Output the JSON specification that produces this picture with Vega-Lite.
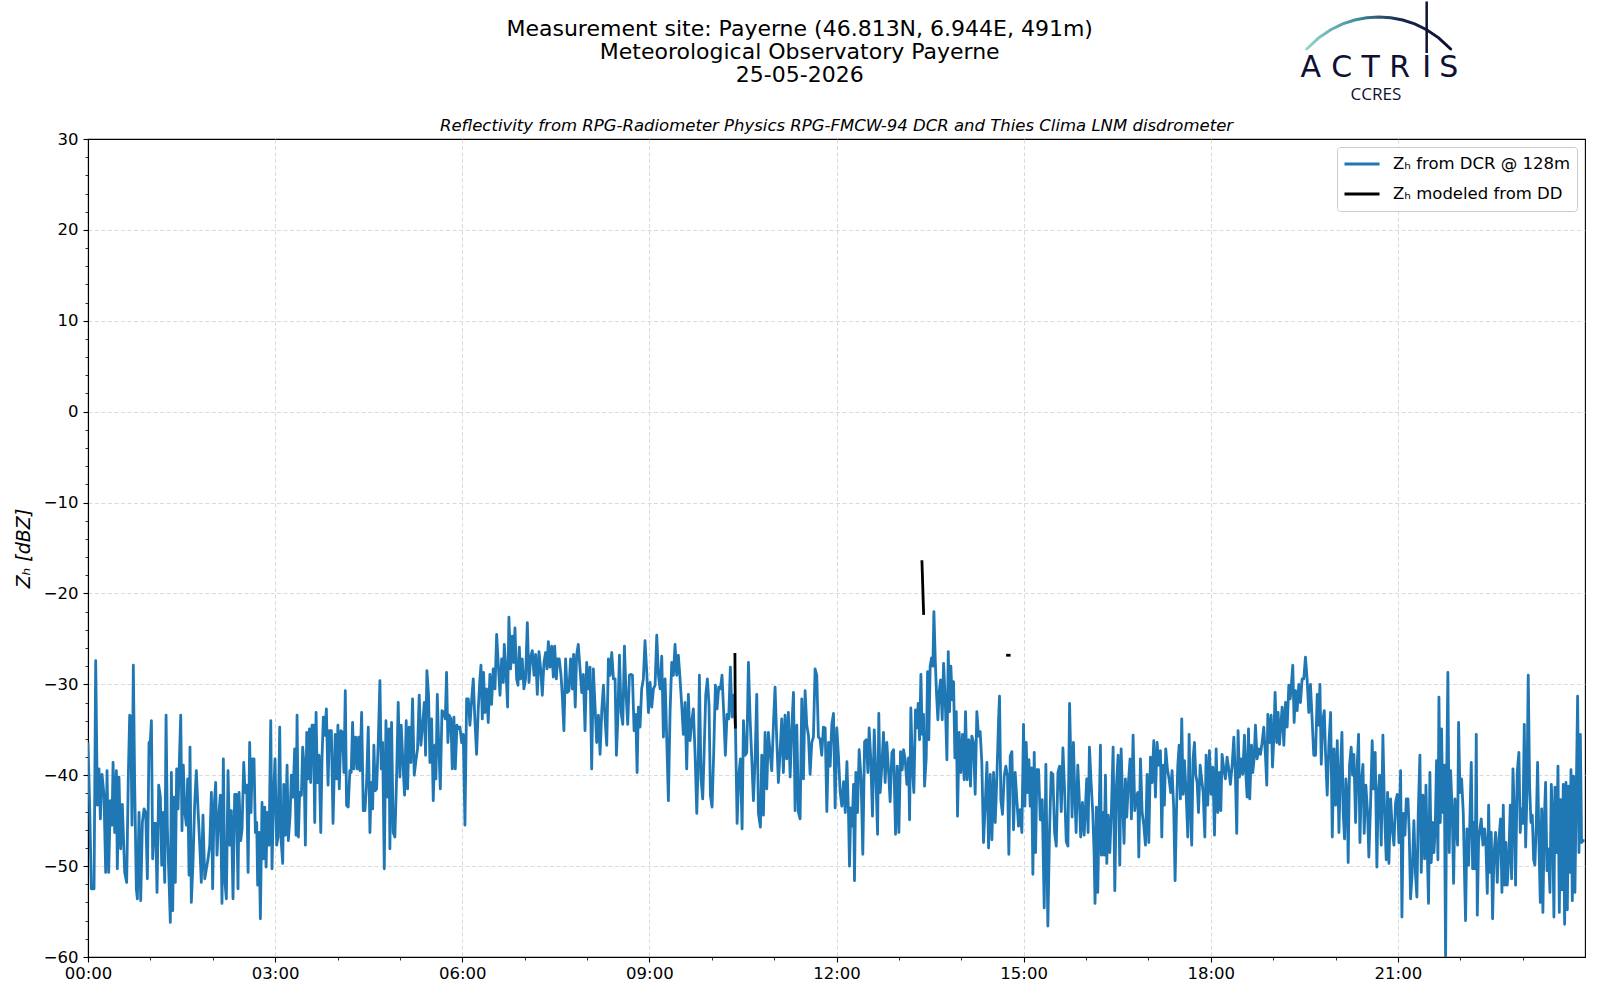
{
  "$schema": "https://vega.github.io/schema/vega-lite/v6.json",
  "width": 1497,
  "height": 818,
  "autosize": {"type": "none"},
  "padding": {"left": 88, "top": 139, "right": 15, "bottom": 43},
  "background": "white",
  "config": {
    "view": {"stroke": "black", "strokeWidth": 1.1},
    "font": "DejaVu Sans"
  },
  "datasets": {
    "dcr": [
      {"t":0.0,"z":-36.4},{"t":1.6,"z":-43.3},{"t":3.2,"z":-52.5},{"t":5.8,"z":-52.5},{"t":7.4,"z":-27.4},{"t":9.0,"z":-43.3},{"t":10.6,"z":-39.3},{"t":11.9,"z":-44.8},{"t":13.5,"z":-39.9},{"t":15.4,"z":-42.2},
      {"t":17.0,"z":-50.7},{"t":18.3,"z":-39.5},{"t":19.9,"z":-50.7},{"t":21.5,"z":-42.8},{"t":23.1,"z":-45.5},{"t":24.1,"z":-38.6},{"t":25.7,"z":-46.3},{"t":27.3,"z":-39.5},{"t":28.2,"z":-50.3},{"t":29.8,"z":-40.2},
      {"t":31.4,"z":-48.1},{"t":33.0,"z":-43.2},{"t":35.3,"z":-50.7},{"t":37.2,"z":-51.8},{"t":38.8,"z":-40.0},{"t":40.1,"z":-33.4},{"t":41.1,"z":-33.6},{"t":42.3,"z":-45.5},{"t":43.6,"z":-27.9},{"t":44.9,"z":-41.1},
      {"t":46.5,"z":-52.5},{"t":47.5,"z":-53.6},{"t":49.1,"z":-44.1},{"t":50.7,"z":-53.8},{"t":52.3,"z":-45.2},{"t":53.9,"z":-43.7},{"t":55.5,"z":-44.1},{"t":57.1,"z":-51.4},{"t":58.7,"z":-36.4},{"t":60.0,"z":-36.2},
      {"t":61.0,"z":-34.0},{"t":62.2,"z":-49.2},{"t":63.8,"z":-45.3},{"t":65.1,"z":-45.3},{"t":66.4,"z":-52.9},{"t":68.0,"z":-41.1},{"t":69.6,"z":-42.4},{"t":70.9,"z":-49.9},{"t":72.2,"z":-44.1},{"t":73.8,"z":-51.8},
      {"t":75.1,"z":-33.4},{"t":76.3,"z":-45.7},{"t":77.6,"z":-50.3},{"t":79.2,"z":-56.2},{"t":80.2,"z":-39.7},{"t":81.5,"z":-54.9},{"t":82.7,"z":-42.4},{"t":84.0,"z":-51.8},{"t":85.3,"z":-39.3},{"t":86.6,"z":-43.7},
      {"t":87.6,"z":-39.5},{"t":89.2,"z":-33.4},{"t":90.4,"z":-46.1},{"t":91.7,"z":-38.9},{"t":93.0,"z":-43.9},{"t":94.6,"z":-45.5},{"t":95.9,"z":-40.4},{"t":97.2,"z":-51.0},{"t":98.1,"z":-36.9},{"t":99.4,"z":-54.0},
      {"t":101.0,"z":-49.6},{"t":102.6,"z":-43.2},{"t":104.2,"z":-39.5},{"t":105.8,"z":-43.7},{"t":107.4,"z":-47.4},{"t":109.0,"z":-51.8},{"t":110.6,"z":-44.4},{"t":112.3,"z":-51.4},{"t":113.9,"z":-50.3},{"t":115.5,"z":-49.2},
      {"t":117.1,"z":-47.7},{"t":118.7,"z":-41.9},{"t":119.9,"z":-52.5},{"t":121.2,"z":-43.7},{"t":122.8,"z":-40.8},{"t":124.1,"z":-48.8},{"t":125.7,"z":-44.6},{"t":127.3,"z":-42.2},{"t":128.9,"z":-54.1},{"t":130.2,"z":-38.2},
      {"t":131.5,"z":-51.4},{"t":133.1,"z":-53.6},{"t":134.7,"z":-39.5},{"t":136.3,"z":-47.7},{"t":137.9,"z":-43.9},{"t":139.5,"z":-53.6},{"t":141.1,"z":-42.1},{"t":142.7,"z":-42.1},{"t":144.3,"z":-52.5},{"t":145.3,"z":-41.9},
      {"t":146.9,"z":-47.2},{"t":148.2,"z":-45.9},{"t":149.8,"z":-38.6},{"t":151.1,"z":-41.9},{"t":152.7,"z":-41.1},{"t":154.0,"z":-50.7},{"t":155.5,"z":-36.4},{"t":156.8,"z":-44.1},{"t":158.1,"z":-38.2},{"t":159.7,"z":-38.2},
      {"t":161.0,"z":-46.3},{"t":162.3,"z":-45.2},{"t":163.2,"z":-52.1},{"t":164.5,"z":-46.3},{"t":165.8,"z":-55.8},{"t":167.4,"z":-43.0},{"t":168.7,"z":-49.2},{"t":170.0,"z":-43.5},{"t":171.3,"z":-50.1},{"t":172.5,"z":-44.1},
      {"t":174.1,"z":-47.7},{"t":175.8,"z":-34.0},{"t":177.0,"z":-50.3},{"t":178.6,"z":-41.9},{"t":179.9,"z":-38.2},{"t":181.5,"z":-47.7},{"t":182.8,"z":-46.8},{"t":184.4,"z":-34.7},{"t":185.7,"z":-47.0},{"t":187.3,"z":-49.7},
      {"t":188.3,"z":-41.0},{"t":189.9,"z":-46.6},{"t":191.5,"z":-38.9},{"t":192.7,"z":-47.2},{"t":194.4,"z":-44.4},{"t":195.6,"z":-40.0},{"t":197.2,"z":-42.4},{"t":198.8,"z":-37.1},{"t":200.1,"z":-46.6},{"t":201.1,"z":-33.4},
      {"t":202.4,"z":-46.8},{"t":203.6,"z":-41.9},{"t":205.3,"z":-42.2},{"t":206.5,"z":-36.9},{"t":207.8,"z":-38.8},{"t":209.1,"z":-47.7},{"t":210.4,"z":-35.3},{"t":211.7,"z":-40.4},{"t":213.0,"z":-34.9},{"t":214.2,"z":-40.8},
      {"t":215.5,"z":-34.5},{"t":216.8,"z":-34.5},{"t":218.1,"z":-45.2},{"t":219.4,"z":-33.1},{"t":220.6,"z":-40.8},{"t":222.3,"z":-37.8},{"t":223.9,"z":-46.3},{"t":225.1,"z":-38.2},{"t":226.4,"z":-33.6},{"t":227.7,"z":-35.6},
      {"t":229.3,"z":-32.7},{"t":230.9,"z":-41.1},{"t":232.2,"z":-35.1},{"t":234.1,"z":-35.1},{"t":235.7,"z":-45.3},
      {"t":237.8,"z":-35.5},{"t":239.1,"z":-40.4},{"t":240.4,"z":-34.5},{"t":241.7,"z":-41.5},{"t":243.3,"z":-35.1},{"t":244.9,"z":-35.3},{"t":246.2,"z":-39.7},{"t":247.5,"z":-30.7},{"t":248.7,"z":-43.3},{"t":250.3,"z":-43.5},
      {"t":251.9,"z":-39.5},{"t":253.2,"z":-39.7},{"t":254.5,"z":-34.2},{"t":255.8,"z":-39.3},{"t":257.4,"z":-35.8},{"t":259.0,"z":-39.3},{"t":260.3,"z":-35.8},{"t":261.6,"z":-39.5},{"t":263.2,"z":-33.1},{"t":264.8,"z":-43.9},
      {"t":266.4,"z":-43.9},{"t":268.0,"z":-40.8},{"t":269.6,"z":-34.7},{"t":271.2,"z":-46.3},{"t":272.5,"z":-40.8},{"t":273.8,"z":-43.7},{"t":275.0,"z":-36.7},{"t":276.3,"z":-41.7},{"t":277.6,"z":-41.5},{"t":279.2,"z":-36.4},
      {"t":280.8,"z":-29.6},{"t":282.1,"z":-39.3},{"t":283.4,"z":-36.4},{"t":285.0,"z":-50.3},{"t":286.6,"z":-34.0},{"t":288.2,"z":-42.4},{"t":289.5,"z":-34.9},{"t":290.4,"z":-48.1},{"t":292.0,"z":-34.2},{"t":293.6,"z":-46.3},
      {"t":295.2,"z":-46.8},{"t":296.8,"z":-40.4},{"t":298.4,"z":-32.0},{"t":300.0,"z":-40.2},{"t":301.3,"z":-34.5},{"t":302.9,"z":-38.6},{"t":304.5,"z":-42.2},{"t":306.1,"z":-34.0},{"t":307.4,"z":-41.5},{"t":309.0,"z":-34.7},
      {"t":310.6,"z":-38.6},{"t":312.2,"z":-31.6},{"t":313.8,"z":-40.0},{"t":315.4,"z":-38.4},{"t":317.0,"z":-37.1},{"t":318.6,"z":-31.2},{"t":320.2,"z":-36.7},{"t":321.9,"z":-34.5},{"t":323.5,"z":-32.0},{"t":324.7,"z":-37.8},
      {"t":326.0,"z":-28.5},{"t":327.6,"z":-31.2},{"t":328.9,"z":-38.6},{"t":330.5,"z":-33.8},{"t":332.1,"z":-42.8},{"t":333.7,"z":-36.7},{"t":334.7,"z":-40.4},{"t":336.0,"z":-31.1},{"t":337.2,"z":-36.0},{"t":338.9,"z":-41.5},
      {"t":340.5,"z":-32.9},{"t":342.1,"z":-33.1},{"t":343.7,"z":-33.8},{"t":344.9,"z":-28.7},{"t":346.2,"z":-36.4},{"t":347.5,"z":-33.4},{"t":349.1,"z":-33.8},{"t":350.4,"z":-39.3},{"t":352.0,"z":-33.6},{"t":353.3,"z":-39.3},
      {"t":354.9,"z":-34.5},{"t":356.5,"z":-34.9},{"t":357.8,"z":-34.7},{"t":359.4,"z":-36.4},{"t":361.0,"z":-35.5},{"t":362.6,"z":-45.5},{"t":364.2,"z":-31.6},{"t":365.8,"z":-31.6},{"t":367.4,"z":-34.5},{"t":369.0,"z":-31.8},
      {"t":370.6,"z":-29.4},{"t":372.2,"z":-34.0},{"t":373.8,"z":-37.7},{"t":375.4,"z":-32.7},{"t":377.0,"z":-29.4},{"t":378.0,"z":-27.9},{"t":379.3,"z":-33.8},{"t":380.5,"z":-28.7},{"t":381.8,"z":-33.1},{"t":383.4,"z":-30.5},
      {"t":385.0,"z":-34.2},{"t":386.6,"z":-28.9},{"t":388.2,"z":-32.2},{"t":389.8,"z":-28.3},{"t":391.5,"z":-30.5},{"t":393.1,"z":-24.5},{"t":394.7,"z":-27.9},{"t":396.3,"z":-31.2},{"t":397.9,"z":-27.2},{"t":399.5,"z":-29.8},
      {"t":400.4,"z":-25.6},{"t":402.0,"z":-28.3},{"t":403.6,"z":-32.5},{"t":404.9,"z":-22.6},{"t":406.5,"z":-28.3},{"t":408.1,"z":-24.7},{"t":409.4,"z":-27.6},{"t":410.7,"z":-23.8},{"t":412.3,"z":-29.4},{"t":413.6,"z":-30.1},
      {"t":414.9,"z":-25.9},{"t":416.1,"z":-29.4},{"t":417.7,"z":-27.2},{"t":419.3,"z":-30.5},{"t":420.9,"z":-29.4},{"t":422.6,"z":-23.2},{"t":424.2,"z":-29.8},{"t":425.8,"z":-27.0},{"t":427.4,"z":-26.3},{"t":429.0,"z":-29.0},
      {"t":430.6,"z":-26.7},{"t":432.2,"z":-31.1},{"t":433.8,"z":-26.4},{"t":435.4,"z":-28.3},{"t":437.0,"z":-31.2},{"t":438.6,"z":-27.6},{"t":440.2,"z":-26.5},{"t":441.5,"z":-28.3},{"t":442.8,"z":-25.3},{"t":444.4,"z":-28.1},
      {"t":446.0,"z":-25.8},{"t":447.6,"z":-29.2},{"t":448.9,"z":-25.8},{"t":450.5,"z":-29.4},{"t":451.7,"z":-27.2},{"t":453.3,"z":-27.2},{"t":455.0,"z":-29.0},{"t":456.2,"z":-31.2},{"t":457.8,"z":-35.1},{"t":459.4,"z":-27.2},
      {"t":461.0,"z":-30.9},{"t":462.6,"z":-30.7},{"t":464.2,"z":-27.2},{"t":465.9,"z":-30.5},{"t":467.1,"z":-26.7},{"t":468.7,"z":-32.5},{"t":470.0,"z":-26.8},{"t":471.6,"z":-25.6},
      {"t":474.9,"z":-30.9},{"t":476.5,"z":-28.9},{"t":478.1,"z":-35.1},{"t":479.7,"z":-27.6},{"t":481.3,"z":-30.5},{"t":482.9,"z":-28.1},{"t":484.5,"z":-39.3},{"t":486.1,"z":-28.3},{"t":487.7,"z":-32.3},{"t":489.3,"z":-36.4},
      {"t":491.0,"z":-33.4},{"t":492.6,"z":-37.7},{"t":494.2,"z":-32.9},{"t":495.8,"z":-30.1},{"t":497.4,"z":-33.8},{"t":499.0,"z":-36.7},{"t":500.6,"z":-27.2},{"t":502.2,"z":-29.0},{"t":503.8,"z":-26.5},{"t":505.4,"z":-29.4},
      {"t":507.0,"z":-29.4},{"t":508.3,"z":-37.8},{"t":509.5,"z":-34.2},{"t":511.2,"z":-26.8},{"t":512.8,"z":-33.1},{"t":514.4,"z":-34.4},{"t":516.0,"z":-25.8},{"t":517.6,"z":-31.2},{"t":519.2,"z":-34.4},{"t":520.8,"z":-29.0},
      {"t":522.4,"z":-28.9},{"t":523.7,"z":-29.0},{"t":525.3,"z":-35.1},{"t":526.9,"z":-33.3},{"t":528.2,"z":-39.7},{"t":529.4,"z":-32.5},{"t":531.0,"z":-34.7},{"t":532.6,"z":-30.5},{"t":534.2,"z":-29.4},{"t":535.8,"z":-25.2},
      {"t":537.5,"z":-28.7},{"t":539.1,"z":-33.1},{"t":540.7,"z":-29.8},{"t":542.3,"z":-32.5},{"t":543.9,"z":-30.5},{"t":545.5,"z":-30.1},{"t":547.1,"z":-24.6},{"t":548.7,"z":-29.0},{"t":550.3,"z":-30.5},{"t":551.9,"z":-26.9},
      {"t":553.5,"z":-35.8},{"t":555.1,"z":-29.4},{"t":556.7,"z":-36.0},{"t":558.3,"z":-42.8},{"t":559.9,"z":-33.1},{"t":561.5,"z":-27.6},{"t":563.1,"z":-29.0},{"t":564.7,"z":-25.6},{"t":566.3,"z":-29.0},{"t":567.9,"z":-26.8},
      {"t":569.5,"z":-29.4},{"t":571.1,"z":-32.3},{"t":572.7,"z":-35.5},{"t":574.3,"z":-32.0},{"t":575.9,"z":-39.3},{"t":577.5,"z":-31.1},{"t":579.1,"z":-36.2},{"t":580.7,"z":-34.2},{"t":582.3,"z":-32.7},{"t":584.0,"z":-37.8},
      {"t":585.6,"z":-44.2},{"t":587.2,"z":-37.5},{"t":588.1,"z":-29.0},{"t":589.7,"z":-40.4},{"t":591.3,"z":-42.6},{"t":592.6,"z":-37.8},{"t":594.2,"z":-31.2},{"t":595.8,"z":-29.4},{"t":597.4,"z":-32.3},{"t":598.7,"z":-42.2},
      {"t":600.3,"z":-43.5},{"t":601.9,"z":-37.5},{"t":603.5,"z":-30.1},{"t":605.1,"z":-32.7},{"t":606.7,"z":-30.3},{"t":608.3,"z":-30.5},{"t":609.9,"z":-29.0},{"t":611.5,"z":-33.1},{"t":613.1,"z":-37.8},{"t":614.7,"z":-33.3},
      {"t":616.3,"z":-33.8},{"t":617.9,"z":-28.1},{"t":619.5,"z":-33.6},{"t":621.2,"z":-31.2},{"t":622.8,"z":-34.7},{"t":624.4,"z":-45.3},{"t":626.0,"z":-40.0},{"t":627.6,"z":-38.2},{"t":629.2,"z":-45.9},{"t":630.5,"z":-34.0},
      {"t":632.1,"z":-37.8},{"t":633.7,"z":-37.5},{"t":635.3,"z":-27.6},{"t":636.9,"z":-33.8},{"t":638.5,"z":-38.2},{"t":640.1,"z":-42.8},{"t":641.7,"z":-38.2},{"t":643.3,"z":-31.1},{"t":644.9,"z":-44.2},{"t":646.8,"z":-45.7},
      {"t":648.1,"z":-37.8},{"t":649.7,"z":-44.4},{"t":651.3,"z":-35.3},{"t":652.9,"z":-41.5},{"t":654.5,"z":-35.3},{"t":656.1,"z":-37.5},{"t":657.7,"z":-39.5},{"t":659.3,"z":-34.5},{"t":660.9,"z":-30.3},{"t":662.5,"z":-36.0},
      {"t":664.1,"z":-40.8},{"t":665.7,"z":-37.5},{"t":667.3,"z":-33.8},{"t":668.9,"z":-39.7},{"t":670.5,"z":-33.4},{"t":672.1,"z":-38.2},{"t":673.7,"z":-33.1},{"t":675.4,"z":-40.2},{"t":677.0,"z":-34.7},{"t":678.6,"z":-30.9},
      {"t":680.2,"z":-43.9},{"t":681.8,"z":-34.5},{"t":683.4,"z":-44.1},{"t":685.0,"z":-44.8},{"t":686.6,"z":-31.6},{"t":688.2,"z":-40.4},{"t":689.8,"z":-30.7},{"t":691.4,"z":-34.5},{"t":693.0,"z":-35.6},{"t":694.6,"z":-39.9},
      {"t":696.2,"z":-36.4},{"t":697.8,"z":-35.8},{"t":699.4,"z":-28.3},{"t":701.0,"z":-29.0},{"t":702.6,"z":-35.8},{"t":704.2,"z":-36.0},{"t":705.8,"z":-37.8},{"t":707.4,"z":-34.7},
      {"t":709.1,"z":-34.8},{"t":710.7,"z":-44.0},{"t":712.3,"z":-36.4},{"t":713.9,"z":-39.0},{"t":715.5,"z":-34.4},{"t":717.1,"z":-33.2},{"t":718.7,"z":-43.6},{"t":720.3,"z":-34.8},{"t":721.9,"z":-37.9},{"t":723.5,"z":-41.8},
      {"t":725.1,"z":-43.4},{"t":726.8,"z":-40.7},{"t":728.4,"z":-44.1},{"t":730.0,"z":-38.5},{"t":731.6,"z":-44.5},{"t":732.5,"z":-50.0},{"t":733.8,"z":-43.6},{"t":735.1,"z":-45.6},{"t":736.4,"z":-41.0},{"t":737.3,"z":-51.6},
      {"t":738.6,"z":-39.7},{"t":740.2,"z":-44.1},{"t":741.8,"z":-37.2},{"t":743.7,"z":-40.5},{"t":745.3,"z":-48.7},{"t":747.0,"z":-36.3},{"t":748.6,"z":-36.1},{"t":750.2,"z":-39.7},{"t":751.4,"z":-34.8},{"t":753.0,"z":-38.3},
      {"t":754.6,"z":-44.5},{"t":756.3,"z":-35.0},{"t":757.9,"z":-40.1},{"t":759.5,"z":-46.5},{"t":760.7,"z":-33.2},{"t":762.0,"z":-41.9},{"t":763.6,"z":-39.0},{"t":765.2,"z":-35.3},{"t":766.8,"z":-40.8},{"t":768.4,"z":-36.4},
      {"t":770.0,"z":-39.4},{"t":771.6,"z":-42.9},{"t":773.3,"z":-37.5},{"t":774.9,"z":-37.2},{"t":776.8,"z":-46.5},{"t":778.4,"z":-39.0},{"t":780.0,"z":-46.3},{"t":781.6,"z":-37.4},{"t":783.2,"z":-39.4},{"t":784.5,"z":-37.2},
      {"t":786.1,"z":-38.3},{"t":787.7,"z":-41.0},{"t":789.3,"z":-38.1},{"t":790.3,"z":-44.9},{"t":791.5,"z":-32.6},{"t":793.1,"z":-39.4},{"t":794.4,"z":-41.9},{"t":796.0,"z":-32.8},{"t":797.3,"z":-34.8},{"t":798.6,"z":-32.1},
      {"t":799.9,"z":-36.1},{"t":801.2,"z":-28.9},{"t":802.4,"z":-35.5},{"t":803.7,"z":-33.3},{"t":804.7,"z":-41.2},{"t":806.3,"z":-38.1},{"t":807.6,"z":-28.6},{"t":808.8,"z":-36.1},{"t":810.1,"z":-28.0},{"t":811.4,"z":-27.1},
      {"t":812.7,"z":-28.0},{"t":813.7,"z":-22.0},{"t":815.0,"z":-27.3},{"t":816.2,"z":-31.0},{"t":817.5,"z":-33.9},{"t":818.8,"z":-30.8},{"t":820.1,"z":-29.5},{"t":821.7,"z":-33.9},{"t":823.0,"z":-27.7},{"t":824.6,"z":-31.7},
      {"t":826.2,"z":-38.3},{"t":827.5,"z":-26.4},{"t":828.7,"z":-33.0},{"t":830.0,"z":-28.0},{"t":831.3,"z":-31.7},{"t":832.6,"z":-29.7},{"t":833.9,"z":-38.1},{"t":835.2,"z":-33.0},{"t":836.4,"z":-44.5},{"t":838.0,"z":-35.3},
      {"t":839.6,"z":-39.7},{"t":841.2,"z":-35.5},{"t":842.8,"z":-40.5},{"t":844.1,"z":-33.0},{"t":845.7,"z":-40.5},{"t":847.3,"z":-36.1},{"t":848.9,"z":-41.2},{"t":850.2,"z":-35.7},{"t":851.8,"z":-36.4},{"t":853.4,"z":-42.1},
      {"t":855.0,"z":-33.0},{"t":856.6,"z":-35.7},{"t":858.2,"z":-35.2},{"t":859.8,"z":-38.6},{"t":861.4,"z":-47.4},{"t":863.0,"z":-43.4},{"t":864.7,"z":-38.6},{"t":866.3,"z":-48.0},{"t":867.9,"z":-39.9},{"t":869.5,"z":-47.1},
      {"t":871.1,"z":-39.7},{"t":872.7,"z":-45.2},{"t":874.3,"z":-40.1},{"t":875.9,"z":-33.9},{"t":876.8,"z":-31.3},{"t":878.1,"z":-42.7},{"t":879.7,"z":-44.3},{"t":881.3,"z":-40.1},{"t":882.9,"z":-39.0},{"t":884.5,"z":-40.1},
      {"t":885.8,"z":-48.7},{"t":887.1,"z":-37.9},{"t":888.7,"z":-37.4},{"t":890.3,"z":-46.0},{"t":891.9,"z":-39.7},{"t":893.5,"z":-42.7},{"t":895.1,"z":-45.6},{"t":896.7,"z":-43.8},{"t":898.3,"z":-46.3},{"t":899.9,"z":-34.4},
      {"t":901.2,"z":-43.4},{"t":902.5,"z":-36.4},{"t":903.8,"z":-41.9},{"t":905.1,"z":-38.3},{"t":906.3,"z":-43.4},{"t":907.6,"z":-39.2},{"t":908.9,"z":-50.9},{"t":910.2,"z":-37.5},{"t":911.5,"z":-48.5},{"t":912.8,"z":-39.4},
      {"t":914.4,"z":-39.4},{"t":916.0,"z":-44.9},{"t":917.9,"z":-42.7},{"t":919.8,"z":-54.6},{"t":921.4,"z":-38.8},{"t":923.3,"z":-56.6},{"t":924.9,"z":-46.3},{"t":926.5,"z":-39.7},{"t":928.1,"z":-39.9},{"t":929.8,"z":-46.3},
      {"t":931.4,"z":-47.8},{"t":933.0,"z":-39.7},{"t":934.6,"z":-39.0},{"t":936.2,"z":-44.0},{"t":937.8,"z":-37.0},{"t":939.4,"z":-41.6},{"t":941.0,"z":-47.3},{"t":942.6,"z":-47.8},{"t":944.2,"z":-32.1},
      {"t":946.6,"z":-44.6},{"t":947.9,"z":-36.4},{"t":949.2,"z":-41.9},{"t":950.5,"z":-46.3},{"t":952.1,"z":-38.9},{"t":953.3,"z":-41.9},{"t":954.9,"z":-46.8},{"t":956.6,"z":-43.0},{"t":958.2,"z":-46.6},{"t":959.4,"z":-43.7},
      {"t":960.7,"z":-40.4},{"t":962.0,"z":-46.3},{"t":963.3,"z":-36.9},{"t":964.9,"z":-40.8},{"t":966.5,"z":-44.1},{"t":967.8,"z":-48.6},{"t":968.7,"z":-54.1},{"t":970.0,"z":-43.5},{"t":971.3,"z":-52.9},{"t":972.6,"z":-44.4},
      {"t":973.9,"z":-36.7},{"t":974.8,"z":-48.8},{"t":976.1,"z":-44.1},{"t":977.4,"z":-48.8},{"t":978.7,"z":-40.0},{"t":980.0,"z":-49.7},{"t":981.3,"z":-44.4},{"t":982.9,"z":-48.5},{"t":984.5,"z":-43.7},{"t":986.1,"z":-36.9},
      {"t":987.7,"z":-52.7},{"t":989.3,"z":-41.1},{"t":990.9,"z":-37.8},{"t":992.5,"z":-49.9},{"t":993.8,"z":-37.1},{"t":995.4,"z":-43.3},{"t":996.6,"z":-47.5},{"t":997.9,"z":-40.4},{"t":999.2,"z":-44.6},{"t":1000.8,"z":-40.8},
      {"t":1002.4,"z":-38.2},{"t":1003.7,"z":-44.8},{"t":1005.3,"z":-35.6},{"t":1006.9,"z":-43.9},{"t":1008.2,"z":-42.4},{"t":1009.8,"z":-41.9},{"t":1010.8,"z":-49.0},{"t":1012.4,"z":-38.2},{"t":1014.0,"z":-44.1},{"t":1015.6,"z":-45.5},
      {"t":1017.2,"z":-47.7},{"t":1018.8,"z":-39.9},{"t":1020.4,"z":-47.4},{"t":1022.0,"z":-38.0},{"t":1023.6,"z":-40.8},{"t":1025.2,"z":-36.2},{"t":1026.8,"z":-42.4},{"t":1028.4,"z":-36.4},{"t":1030.0,"z":-38.9},{"t":1031.6,"z":-37.3},
      {"t":1032.9,"z":-46.8},{"t":1034.2,"z":-38.9},{"t":1035.4,"z":-43.3},{"t":1036.7,"z":-37.1},{"t":1038.3,"z":-39.3},{"t":1039.9,"z":-40.4},{"t":1041.5,"z":-41.9},{"t":1042.8,"z":-39.5},{"t":1044.4,"z":-43.7},{"t":1045.7,"z":-51.6},
      {"t":1047.0,"z":-44.1},{"t":1048.3,"z":-38.9},{"t":1049.6,"z":-36.7},{"t":1050.8,"z":-42.6},{"t":1052.1,"z":-33.8},{"t":1053.4,"z":-42.1},{"t":1054.7,"z":-38.4},{"t":1056.3,"z":-41.9},{"t":1057.9,"z":-46.8},{"t":1059.2,"z":-35.5},
      {"t":1060.5,"z":-43.7},{"t":1061.7,"z":-47.7},{"t":1063.0,"z":-38.2},{"t":1064.3,"z":-36.4},{"t":1065.6,"z":-40.0},{"t":1066.9,"z":-40.8},{"t":1068.2,"z":-44.1},{"t":1069.8,"z":-38.9},{"t":1071.4,"z":-40.6},{"t":1072.7,"z":-41.9},
      {"t":1074.3,"z":-46.8},{"t":1075.5,"z":-37.8},{"t":1077.1,"z":-43.3},{"t":1078.7,"z":-37.3},{"t":1080.3,"z":-42.1},{"t":1082.0,"z":-39.1},{"t":1083.6,"z":-46.6},{"t":1085.2,"z":-37.1},{"t":1086.8,"z":-44.1},{"t":1088.4,"z":-39.7},
      {"t":1089.7,"z":-43.9},{"t":1090.9,"z":-37.7},{"t":1092.5,"z":-39.3},{"t":1094.1,"z":-40.4},{"t":1095.7,"z":-38.0},{"t":1097.3,"z":-39.3},{"t":1098.9,"z":-41.0},{"t":1100.6,"z":-38.9},{"t":1102.2,"z":-35.8},{"t":1103.8,"z":-40.4},
      {"t":1105.0,"z":-46.4},{"t":1106.3,"z":-35.1},{"t":1107.6,"z":-40.2},{"t":1109.2,"z":-38.2},{"t":1110.8,"z":-39.9},{"t":1112.4,"z":-35.6},{"t":1113.7,"z":-39.7},{"t":1115.0,"z":-42.4},{"t":1116.3,"z":-34.9},{"t":1117.5,"z":-42.6},
      {"t":1119.2,"z":-36.7},{"t":1120.4,"z":-39.7},{"t":1121.7,"z":-38.2},{"t":1123.0,"z":-34.5},{"t":1124.6,"z":-38.2},{"t":1126.2,"z":-37.1},{"t":1127.8,"z":-37.7},{"t":1129.4,"z":-36.4},{"t":1131.0,"z":-34.7},{"t":1132.6,"z":-37.8},
      {"t":1133.9,"z":-41.1},{"t":1134.9,"z":-33.3},{"t":1136.5,"z":-36.4},{"t":1138.1,"z":-33.4},{"t":1139.4,"z":-39.1},{"t":1140.6,"z":-36.0},{"t":1141.9,"z":-30.9},{"t":1143.5,"z":-36.4},{"t":1144.8,"z":-33.1},{"t":1146.1,"z":-36.6},
      {"t":1147.4,"z":-34.5},{"t":1148.7,"z":-32.5},{"t":1150.3,"z":-36.7},{"t":1151.9,"z":-32.0},{"t":1153.5,"z":-34.7},{"t":1155.1,"z":-30.1},{"t":1156.4,"z":-31.6},{"t":1157.6,"z":-30.0},{"t":1158.9,"z":-27.9},{"t":1160.2,"z":-34.2},
      {"t":1161.5,"z":-30.7},{"t":1163.1,"z":-32.9},{"t":1164.7,"z":-30.0},{"t":1166.3,"z":-32.0},{"t":1167.9,"z":-29.4},{"t":1169.5,"z":-29.4},{"t":1171.1,"z":-27.0},{"t":1172.7,"z":-29.4},{"t":1174.3,"z":-33.1},{"t":1175.9,"z":-30.0},
      {"t":1177.5,"z":-33.8},{"t":1179.1,"z":-37.8},
      {"t":1180.8,"z":-37.8},{"t":1182.4,"z":-31.1},{"t":1184.0,"z":-34.5},{"t":1185.0,"z":-30.0},{"t":1186.3,"z":-38.8},{"t":1187.9,"z":-33.8},{"t":1189.2,"z":-32.9},{"t":1190.4,"z":-37.5},{"t":1192.0,"z":-42.2},{"t":1193.6,"z":-36.7},
      {"t":1195.3,"z":-33.1},{"t":1196.9,"z":-46.8},{"t":1198.5,"z":-37.1},{"t":1200.1,"z":-43.3},{"t":1201.7,"z":-36.2},{"t":1203.3,"z":-46.3},{"t":1204.9,"z":-38.9},{"t":1206.2,"z":-35.3},{"t":1207.4,"z":-44.1},{"t":1208.7,"z":-47.0},
      {"t":1210.0,"z":-40.4},{"t":1211.3,"z":-42.6},{"t":1212.2,"z":-49.6},{"t":1213.5,"z":-38.9},{"t":1215.1,"z":-36.9},{"t":1216.4,"z":-40.0},{"t":1217.7,"z":-37.7},{"t":1219.3,"z":-45.2},{"t":1220.9,"z":-38.9},{"t":1222.2,"z":-35.5},
      {"t":1223.5,"z":-47.4},{"t":1224.8,"z":-40.8},{"t":1226.4,"z":-38.8},{"t":1227.6,"z":-46.4},{"t":1229.2,"z":-41.1},{"t":1230.9,"z":-44.2},{"t":1232.1,"z":-49.0},{"t":1233.7,"z":-43.3},{"t":1235.3,"z":-36.2},{"t":1236.6,"z":-41.5},
      {"t":1238.2,"z":-37.5},{"t":1239.8,"z":-50.1},{"t":1241.1,"z":-41.9},{"t":1242.4,"z":-40.0},{"t":1244.0,"z":-47.7},{"t":1245.6,"z":-35.6},{"t":1247.2,"z":-44.1},{"t":1248.8,"z":-49.3},{"t":1250.1,"z":-41.9},{"t":1251.4,"z":-49.7},
      {"t":1253.0,"z":-42.6},{"t":1254.6,"z":-45.9},{"t":1256.2,"z":-47.7},{"t":1257.8,"z":-43.0},{"t":1259.4,"z":-42.1},{"t":1261.0,"z":-47.4},{"t":1262.6,"z":-39.5},{"t":1263.9,"z":-55.6},{"t":1265.2,"z":-44.2},{"t":1266.8,"z":-46.6},
      {"t":1268.1,"z":-42.6},{"t":1269.7,"z":-42.6},{"t":1270.9,"z":-46.3},{"t":1272.2,"z":-53.6},{"t":1273.8,"z":-50.7},{"t":1275.4,"z":-45.0},{"t":1277.0,"z":-51.0},{"t":1278.3,"z":-53.4},{"t":1279.6,"z":-44.1},{"t":1281.2,"z":-37.8},
      {"t":1282.5,"z":-50.7},{"t":1284.1,"z":-42.2},{"t":1285.7,"z":-49.2},{"t":1287.0,"z":-41.1},{"t":1288.6,"z":-49.9},{"t":1289.5,"z":-54.1},{"t":1290.8,"z":-39.7},{"t":1292.1,"z":-49.6},{"t":1293.4,"z":-45.2},{"t":1294.7,"z":-48.5},
      {"t":1295.9,"z":-45.9},{"t":1297.2,"z":-38.4},{"t":1298.5,"z":-49.3},{"t":1299.5,"z":-31.4},{"t":1300.8,"z":-45.2},{"t":1302.0,"z":-34.9},{"t":1303.3,"z":-44.1},{"t":1304.6,"z":-38.9},{"t":1305.9,"z":-60.5},{"t":1306.9,"z":-40.4},
      {"t":1308.1,"z":-28.7},{"t":1309.4,"z":-48.5},{"t":1310.7,"z":-39.5},{"t":1312.3,"z":-44.1},{"t":1313.6,"z":-51.9},{"t":1314.9,"z":-42.6},{"t":1316.2,"z":-45.5},{"t":1317.4,"z":-47.7},{"t":1318.4,"z":-34.2},{"t":1319.7,"z":-41.9},
      {"t":1321.3,"z":-40.4},{"t":1322.9,"z":-44.1},{"t":1324.2,"z":-51.4},{"t":1325.1,"z":-56.0},{"t":1326.4,"z":-45.9},{"t":1328.0,"z":-49.9},{"t":1329.3,"z":-44.8},{"t":1330.6,"z":-38.6},{"t":1331.9,"z":-50.3},{"t":1333.2,"z":-45.2},
      {"t":1334.4,"z":-50.3},{"t":1335.4,"z":-35.5},{"t":1336.4,"z":-55.4},{"t":1337.6,"z":-47.4},{"t":1338.9,"z":-45.9},{"t":1340.2,"z":-44.8},{"t":1341.8,"z":-47.7},{"t":1343.4,"z":-45.9},{"t":1344.7,"z":-47.7},{"t":1346.0,"z":-53.0},
      {"t":1347.3,"z":-43.3},{"t":1348.5,"z":-50.7},{"t":1349.8,"z":-46.3},{"t":1351.1,"z":-55.8},{"t":1352.4,"z":-48.8},{"t":1354.0,"z":-46.3},{"t":1355.6,"z":-51.8},{"t":1357.2,"z":-47.0},{"t":1358.8,"z":-44.8},{"t":1360.1,"z":-52.9},
      {"t":1361.4,"z":-43.3},{"t":1362.7,"z":-52.1},{"t":1363.9,"z":-47.4},{"t":1365.2,"z":-52.1},{"t":1366.8,"z":-48.8},{"t":1368.1,"z":-43.3},{"t":1369.4,"z":-51.4},{"t":1370.7,"z":-39.3},{"t":1372.0,"z":-44.1},{"t":1373.2,"z":-52.1},
      {"t":1374.8,"z":-39.7},{"t":1376.4,"z":-37.5},{"t":1377.7,"z":-46.3},{"t":1379.0,"z":-43.7},{"t":1380.3,"z":-45.3},{"t":1381.6,"z":-34.4},{"t":1382.9,"z":-47.9},{"t":1384.1,"z":-42.2},{"t":1385.4,"z":-29.0},{"t":1386.7,"z":-41.1},
      {"t":1388.0,"z":-45.2},{"t":1389.3,"z":-44.4},{"t":1390.6,"z":-49.3},{"t":1391.8,"z":-49.9},{"t":1393.1,"z":-45.5},{"t":1394.4,"z":-38.6},{"t":1395.7,"z":-47.4},{"t":1397.0,"z":-54.0},{"t":1398.3,"z":-43.7},{"t":1399.5,"z":-55.1},
      {"t":1400.8,"z":-45.2},{"t":1402.1,"z":-40.8},{"t":1403.4,"z":-50.5},{"t":1404.7,"z":-48.1},{"t":1406.3,"z":-52.9},{"t":1407.6,"z":-41.0},{"t":1408.8,"z":-44.8},{"t":1410.1,"z":-55.6},{"t":1411.1,"z":-41.3},
      {"t":1412.7,"z":-48.5},{"t":1414.0,"z":-39.0},{"t":1415.3,"z":-55.1},{"t":1416.6,"z":-42.7},{"t":1417.8,"z":-52.6},{"t":1419.1,"z":-41.0},{"t":1420.4,"z":-56.4},{"t":1421.7,"z":-40.8},{"t":1423.0,"z":-54.8},{"t":1424.2,"z":-41.2},
      {"t":1425.5,"z":-50.7},{"t":1426.5,"z":-39.4},{"t":1427.8,"z":-53.8},{"t":1429.0,"z":-40.1},{"t":1430.3,"z":-52.9},{"t":1431.6,"z":-41.9},{"t":1432.9,"z":-31.3},{"t":1434.2,"z":-48.5},{"t":1435.5,"z":-35.5},{"t":1436.7,"z":-47.4},
      {"t":1438.3,"z":-47.2},{"t":1439.6,"z":-47.2}
    ],
    "dd": [
      {"g":1,"t":622.3,"z":-26.7},{"g":1,"t":622.7,"z":-34.7},
      {"g":2,"t":802.2,"z":-16.5},{"g":2,"t":803.8,"z":-22.2},
      {"g":3,"t":884.5,"z":-26.8},{"g":3,"t":886.1,"z":-26.8}
    ],
    "head": [
      {"t":684.6,"z":41.36,"txt":"Measurement site: Payerne (46.813N, 6.944E, 491m)"},
      {"t":684.6,"z":38.83,"txt":"Meteorological Observatory Payerne"},
      {"t":684.6,"z":36.30,"txt":"25-05-2026"}
    ],
    "sub": [
      {"t":720.0,"z":30.91,"txt":"Reflectivity from RPG-Radiometer Physics RPG-FMCW-94 DCR and Thies Clima LNM disdrometer"}
    ],
    "letters": [
      {"t":1176.1,"z":36.85,"txt":"A"},{"t":1205.9,"z":36.85,"txt":"C"},{"t":1233.8,"z":36.85,"txt":"T"},
      {"t":1261.7,"z":36.85,"txt":"R"},{"t":1287.7,"z":36.85,"txt":"I"},{"t":1308.9,"z":36.85,"txt":"S"}
    ],
    "ccres": [{"t":1238.9,"z":34.3,"txt":"CCRES"}],
    "arc": [
      {"t":1172.3,"z":39.90},{"t":1183.8,"z":41.13},{"t":1195.4,"z":42.02},{"t":1206.9,"z":42.66},{"t":1218.4,"z":43.09},{"t":1230.0,"z":43.33},{"t":1241.5,"z":43.42},
      {"t":1253.1,"z":43.33},{"t":1264.6,"z":43.09},{"t":1276.2,"z":42.66},{"t":1287.7,"z":42.02},{"t":1299.2,"z":41.13},{"t":1310.8,"z":39.90}
    ],
    "mast": [{"t":1287.7,"z":39.46},{"t":1287.7,"z":45.13}]
  },
  "encoding": {
    "x": {
      "field": "t", "type": "quantitative",
      "scale": {"domain": [0, 1440], "nice": false, "zero": false},
      "axis": {
        "title": null,
        "values": [0,60,120,180,240,300,360,420,480,540,600,660,720,780,840,900,960,1020,1080,1140,1200,1260,1320,1380],
        "labelExpr": "datum.value % 180 === 0 ? (datum.value < 600 ? '0' : '') + floor(datum.value / 60) + ':00' : ''",
        "labelFont": "DejaVu Sans", "labelFontSize": 16.5, "labelColor": "black",
        "labelPadding": 3, "labelFlush": false, "labelOverlap": false,
        "domainColor": "black", "domainWidth": 1.1,
        "tickColor": "black",
        "tickSize": {"condition": {"test": "datum.value % 180 === 0", "value": 5}, "value": 3},
        "tickWidth": {"condition": {"test": "datum.value % 180 === 0", "value": 1.1}, "value": 0.8},
        "grid": true, "gridColor": "#d0d0d0", "gridDash": [4, 2.5], "gridWidth": 0.8,
        "gridOpacity": {"condition": {"test": "datum.value % 180 === 0 && datum.value > 0", "value": 1}, "value": 0}
      }
    },
    "y": {
      "field": "z", "type": "quantitative",
      "scale": {"domain": [-60, 30], "nice": false, "zero": false},
      "axis": {
        "title": "Zₕ [dBZ]",
        "titleFont": "DejaVu Sans", "titleFontSize": 19, "titleFontStyle": "italic", "titleFontWeight": "normal",
        "titleColor": "black", "titlePadding": 10,
        "values": [-60,-58,-56,-54,-52,-50,-48,-46,-44,-42,-40,-38,-36,-34,-32,-30,-28,-26,-24,-22,-20,-18,-16,-14,-12,-10,-8,-6,-4,-2,0,2,4,6,8,10,12,14,16,18,20,22,24,26,28,30],
        "format": "d",
        "labelExpr": "datum.value % 10 === 0 ? datum.label : ''",
        "labelFont": "DejaVu Sans", "labelFontSize": 16.5, "labelColor": "black",
        "labelPadding": 5, "labelFlush": false, "labelOverlap": false,
        "domainColor": "black", "domainWidth": 1.1,
        "tickColor": "black",
        "tickSize": {"condition": {"test": "datum.value % 10 === 0", "value": 5}, "value": 3},
        "tickWidth": {"condition": {"test": "datum.value % 10 === 0", "value": 1.1}, "value": 0.8},
        "grid": true, "gridColor": "#d0d0d0", "gridDash": [4, 2.5], "gridWidth": 0.8,
        "gridOpacity": {"condition": {"test": "datum.value % 10 === 0 && datum.value > -60 && datum.value < 30", "value": 1}, "value": 0}
      }
    }
  },
  "layer": [
    {
      "data": {"name": "dcr"},
      "mark": {"type": "line", "strokeWidth": 2.8, "strokeJoin": "round", "clip": true},
      "encoding": {
        "color": {
          "datum": "Zₕ from DCR @ 128m", "type": "nominal",
          "scale": {"domain": ["Zₕ from DCR @ 128m", "Zₕ modeled from DD"], "range": ["#1f77b4", "#000000"]},
          "legend": {
            "title": null, "orient": "top-right", "offset": 8,
            "symbolType": "stroke", "symbolSize": 1225, "symbolStrokeWidth": 2.8,
            "labelFont": "DejaVu Sans", "labelFontSize": 16.5, "labelColor": "black", "labelLimit": 0,
            "labelOffset": 12, "padding": 6, "rowPadding": 8, "clipHeight": 22,
            "fillColor": "rgba(255,255,255,0.8)", "strokeColor": "#cccccc", "cornerRadius": 3
          }
        }
      }
    },
    {
      "data": {"name": "dd"},
      "mark": {"type": "line", "strokeWidth": 2.8, "strokeCap": "square", "clip": true},
      "encoding": {
        "detail": {"field": "g", "type": "nominal"},
        "color": {"datum": "Zₕ modeled from DD", "type": "nominal"}
      }
    },
    {
      "data": {"name": "head"},
      "mark": {"type": "text", "font": "DejaVu Sans", "fontSize": 22, "align": "center", "baseline": "alphabetic", "color": "black"},
      "encoding": {"text": {"field": "txt"}}
    },
    {
      "data": {"name": "sub"},
      "mark": {"type": "text", "font": "DejaVu Sans", "fontSize": 16.5, "fontStyle": "italic", "align": "center", "baseline": "alphabetic", "color": "black"},
      "encoding": {"text": {"field": "txt"}}
    },
    {
      "data": {"name": "arc"},
      "mark": {
        "type": "line", "strokeWidth": 3, "strokeCap": "round", "clip": false,
        "color": {"gradient": "linear", "x1": 0, "y1": 0, "x2": 1, "y2": 0,
          "stops": [{"offset": 0, "color": "#8fd6cc"}, {"offset": 0.35, "color": "#3f8e9c"}, {"offset": 0.65, "color": "#17284f"}, {"offset": 1, "color": "#0c0f2e"}]}
      },
      "encoding": {}
    },
    {
      "data": {"name": "mast"},
      "mark": {"type": "line", "strokeWidth": 2.5, "color": "#0e1133", "clip": false},
      "encoding": {}
    },
    {
      "data": {"name": "letters"},
      "mark": {"type": "text", "font": "DejaVu Sans", "fontSize": 30, "align": "center", "baseline": "alphabetic", "color": "#0e1133"},
      "encoding": {"text": {"field": "txt"}}
    },
    {
      "data": {"name": "ccres"},
      "mark": {"type": "text", "font": "Open Sans", "fontSize": 17, "align": "center", "baseline": "alphabetic", "color": "#0e1133"},
      "encoding": {"text": {"field": "txt"}}
    }
  ]
}
